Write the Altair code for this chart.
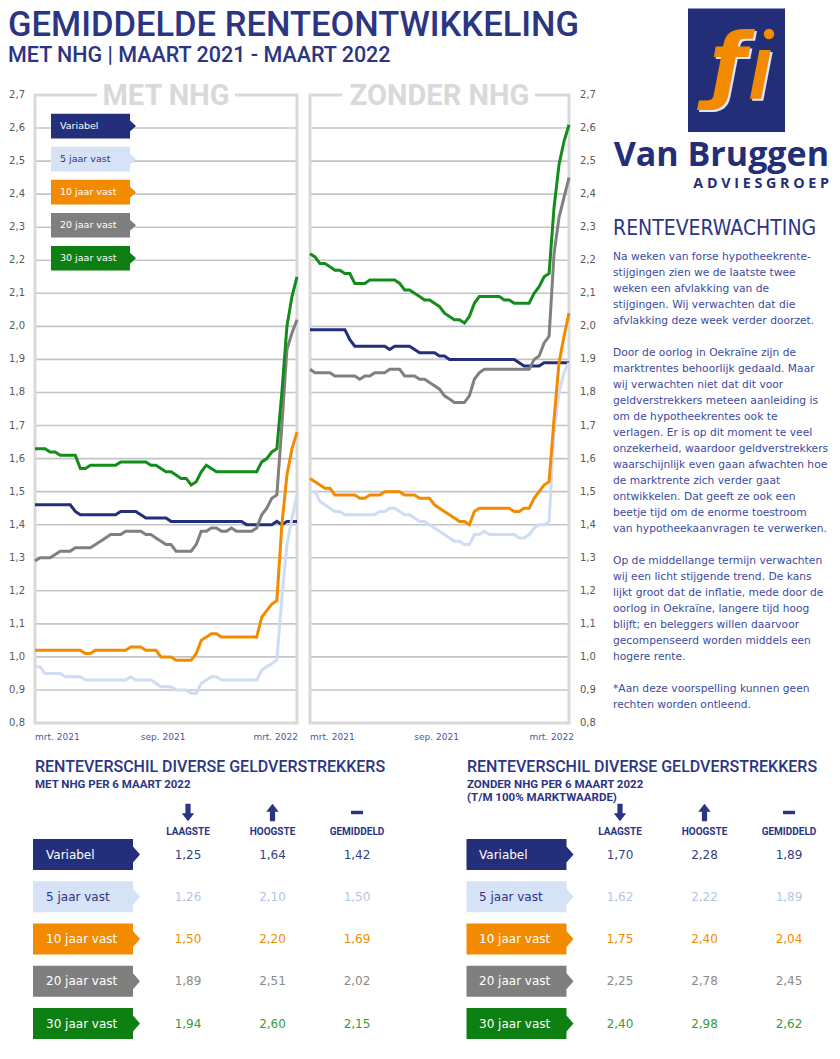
import altair as alt
import pandas as pd

M = 8
def P(v):
    return v - M

# ---------------- data ----------------
dates = list(pd.date_range('2021-03-07', periods=53, freq='7D'))
series = ['Variabel', '5 jaar vast', '10 jaar vast', '20 jaar vast', '30 jaar vast']

met_variabel = [1.46,1.46,1.46,1.46,1.46,1.46,1.46,1.46,1.44,1.43,1.43,1.43,1.43,1.43,1.43,1.43,1.43,
                1.44,1.44,1.44,1.44,1.43,1.42,1.42,1.42,1.42,1.42,1.41,1.41,1.41,1.41,1.41,1.41,1.41,
                1.41,1.41,1.41,1.41,1.41,1.41,1.41,1.41,1.40,1.40,1.40,1.40,1.40,1.40,1.41,1.40,1.41,1.41,1.41]
met_5 = [0.97,0.97,0.95,0.95,0.95,0.95,0.94,0.94,0.94,0.94,0.93,0.93,0.93,0.93,0.93,0.93,0.93,0.93,0.93,
         0.94,0.93,0.93,0.93,0.93,0.92,0.91,0.91,0.91,0.90,0.90,0.90,0.89,0.89,0.92,0.93,0.94,0.94,
         0.93,0.93,0.93,0.93,0.93,0.93,0.93,0.93,0.96,0.97,0.98,0.99,1.18,1.34,1.42,1.49]
met_10 = [1.02,1.02,1.02,1.02,1.02,1.02,1.02,1.02,1.02,1.02,1.01,1.01,1.02,1.02,1.02,1.02,1.02,1.02,1.02,
          1.03,1.03,1.03,1.02,1.02,1.02,1.00,1.00,1.00,0.99,0.99,0.99,0.99,1.01,1.05,1.06,1.07,1.07,
          1.06,1.06,1.06,1.06,1.06,1.06,1.06,1.06,1.12,1.14,1.16,1.17,1.40,1.55,1.63,1.68]
met_20 = [1.29,1.30,1.30,1.30,1.31,1.32,1.32,1.32,1.33,1.33,1.33,1.33,1.34,1.35,1.36,1.37,1.37,1.37,1.38,
          1.38,1.38,1.38,1.37,1.37,1.36,1.35,1.34,1.34,1.32,1.32,1.32,1.32,1.34,1.38,1.38,1.39,1.39,
          1.38,1.38,1.39,1.38,1.38,1.38,1.38,1.39,1.43,1.45,1.48,1.49,1.70,1.93,1.98,2.02]
met_30 = [1.63,1.63,1.63,1.62,1.62,1.61,1.61,1.61,1.61,1.57,1.57,1.58,1.58,1.58,1.58,1.58,1.58,1.59,1.59,
          1.59,1.59,1.59,1.59,1.58,1.58,1.57,1.56,1.56,1.55,1.54,1.54,1.52,1.53,1.56,1.58,1.57,1.56,
          1.56,1.56,1.56,1.56,1.56,1.56,1.56,1.56,1.59,1.60,1.62,1.63,1.80,2.00,2.09,2.15]

zon_variabel = [1.99,1.99,1.99,1.99,1.99,1.99,1.99,1.99,1.96,1.94,1.94,1.94,1.94,1.94,1.94,1.94,1.93,
                1.94,1.94,1.94,1.94,1.93,1.92,1.92,1.92,1.92,1.91,1.91,1.90,1.90,1.90,1.90,1.90,1.90,
                1.90,1.90,1.90,1.90,1.90,1.90,1.90,1.90,1.89,1.88,1.88,1.88,1.88,1.89,1.89,1.89,1.89,1.89,1.89]
zon_5 = [1.50,1.50,1.47,1.46,1.45,1.44,1.44,1.43,1.43,1.43,1.43,1.43,1.43,1.43,1.44,1.44,1.45,1.45,1.44,
         1.43,1.43,1.42,1.41,1.41,1.40,1.39,1.38,1.37,1.36,1.35,1.35,1.34,1.34,1.37,1.37,1.38,1.37,
         1.37,1.37,1.37,1.37,1.37,1.36,1.36,1.37,1.39,1.40,1.40,1.41,1.68,1.80,1.86,1.89]
zon_10 = [1.54,1.53,1.52,1.51,1.51,1.49,1.49,1.49,1.49,1.49,1.48,1.48,1.49,1.49,1.49,1.50,1.50,1.50,1.50,
          1.49,1.49,1.49,1.48,1.48,1.48,1.46,1.45,1.44,1.43,1.42,1.41,1.41,1.40,1.44,1.45,1.45,1.45,
          1.45,1.45,1.45,1.45,1.44,1.44,1.45,1.45,1.48,1.50,1.52,1.53,1.72,1.89,1.97,2.04]
zon_20 = [1.87,1.86,1.86,1.86,1.86,1.85,1.85,1.85,1.85,1.85,1.84,1.85,1.85,1.86,1.86,1.86,1.87,1.87,1.87,
          1.85,1.85,1.85,1.84,1.84,1.83,1.82,1.81,1.79,1.78,1.77,1.77,1.77,1.79,1.84,1.86,1.87,1.87,
          1.87,1.87,1.87,1.87,1.87,1.87,1.87,1.87,1.90,1.91,1.95,1.97,2.22,2.33,2.39,2.45]
zon_30 = [2.22,2.21,2.19,2.19,2.18,2.17,2.17,2.16,2.16,2.13,2.13,2.13,2.14,2.14,2.14,2.14,2.14,2.14,2.13,
          2.11,2.11,2.10,2.09,2.08,2.08,2.07,2.06,2.04,2.03,2.02,2.02,2.01,2.03,2.07,2.09,2.09,2.09,
          2.09,2.09,2.08,2.08,2.07,2.07,2.07,2.07,2.10,2.12,2.15,2.16,2.36,2.49,2.56,2.61]

tbl_stats = ['LAAGSTE', 'HOOGSTE', 'GEMIDDELD']
met_laagste = [1.25, 1.26, 1.50, 1.89, 1.94]
met_hoogste = [1.64, 2.10, 2.20, 2.51, 2.60]
met_gemiddeld = [1.42, 1.50, 1.69, 2.02, 2.15]
zon_laagste = [1.70, 1.62, 1.75, 2.25, 2.40]
zon_hoogste = [2.28, 2.22, 2.40, 2.78, 2.98]
zon_gemiddeld = [1.89, 1.89, 2.04, 2.45, 2.62]

y_ticks = [0.8, 0.9, 1.0, 1.1, 1.2, 1.3, 1.4, 1.5, 1.6, 1.7, 1.8, 1.9, 2.0, 2.1, 2.2, 2.3, 2.4, 2.5, 2.6, 2.7]

body_lines = [
    "Na weken van forse hypotheekrente-",
    "stijgingen zien we de laatste twee",
    "weken een afvlakking van de",
    "stijgingen. Wij verwachten dat die",
    "afvlakking deze week verder doorzet.",
    "",
    "Door de oorlog in Oekraïne zijn de",
    "marktrentes behoorlijk gedaald. Maar",
    "wij verwachten niet dat dit voor",
    "geldverstrekkers meteen aanleiding is",
    "om de hypotheekrentes ook te",
    "verlagen. Er is op dit moment te veel",
    "onzekerheid, waardoor geldverstrekkers",
    "waarschijnlijk even gaan afwachten hoe",
    "de marktrente zich verder gaat",
    "ontwikkelen. Dat geeft ze ook een",
    "beetje tijd om de enorme toestroom",
    "van hypotheekaanvragen te verwerken.",
    "",
    "Op de middellange termijn verwachten",
    "wij een licht stijgende trend. De kans",
    "lijkt groot dat de inflatie, mede door de",
    "oorlog in Oekraïne, langere tijd hoog",
    "blijft; en beleggers willen daarvoor",
    "gecompenseerd worden middels een",
    "hogere rente.",
    "",
    "*Aan deze voorspelling kunnen geen",
    "rechten worden ontleend.",
]

# ---------------- styles ----------------
NAVY = '#2b3583'
BODY = '#3c4a9e'
line_colors = ['#232f7b', '#cfdcf4', '#f28b00', '#808080', '#148c1c']
box_colors = ['#232f7b', '#d6e2f6', '#f28b00', '#7f7f7f', '#0e7f13']
box_text = ['#ffffff', '#2b3583', '#ffffff', '#ffffff', '#ffffff']
val_colors = ['#34418a', '#b4c5e6', '#f28b00', '#8a8a8a', '#3a9b3a']

TAG_S = "M-1,-0.29L0.859,-0.29L0.859,-0.13L1,0L0.859,0.13L0.859,0.29L-1,0.29Z"
TAG_L = "M-1,-0.29L0.869,-0.29L0.869,-0.15L1,0L0.869,0.15L0.869,0.29L-1,0.29Z"
ARROW_DOWN = "M-0.3,-1L0.3,-1L0.3,0.1L0.72,0.1L0,1L-0.72,0.1L-0.3,0.1Z"
ARROW_UP = "M-0.3,1L0.3,1L0.3,-0.1L0.72,-0.1L0,-1L-0.72,-0.1L-0.3,-0.1Z"
BAR = "M-0.69,-0.2L0.69,-0.2L0.69,0.2L-0.69,0.2Z"

ONE = pd.DataFrame({'k': [0]})
layers = []

def text(s, x, y, size, color, font='Roboto', weight='normal', align='left',
         baseline='alphabetic', style='normal'):
    return alt.Chart(pd.DataFrame({'t': [s]})).mark_text(
        font=font, fontSize=size, fontWeight=weight, fontStyle=style, color=color,
        align=align, baseline=baseline
    ).encode(x=alt.value(P(x)), y=alt.value(P(y)), text='t:N')

def box(x1, x2, y1, y2, **kw):
    return alt.Chart(ONE).mark_rect(**kw).encode(
        x=alt.value(P(x1)), x2=alt.value(P(x2)), y=alt.value(P(y1)), y2=alt.value(P(y2)))

def long_df(lists):
    rows = []
    for s, vals in zip(series, lists):
        for d, v in zip(dates, vals):
            rows.append({'datum': d, 'serie': s, 'rente': v})
    return pd.DataFrame(rows)

# ---------------- header ----------------
layers.append(text('GEMIDDELDE RENTEONTWIKKELING', 8, 36, 34.5, NAVY, weight=500))
layers.append(text('MET NHG | MAART 2021 - MAART 2022', 8, 62, 21.5, NAVY, weight=500))

# ---------------- logo ----------------
layers.append(box(688, 785, 8.5, 132, fill='#232e78'))
layers.append(text('ƒ', 730, 95, 84, '#dfe5f7', font='DejaVu Sans', weight='bold',
                   align='center', style='italic'))
layers.append(text('ƒ', 728, 93, 84, '#f28b00', font='DejaVu Sans', weight='bold',
                   align='center', style='italic'))
layers.append(text('l', 761, 101, 64, '#dfe5f7', font='DejaVu Sans', weight='bold',
                   align='center', style='italic'))
layers.append(text('l', 759, 99, 64, '#f28b00', font='DejaVu Sans', weight='bold',
                   align='center', style='italic'))
layers.append(alt.Chart(ONE).mark_point(shape='circle', filled=True, opacity=1, size=110,
                                        color='#f28b00').encode(x=alt.value(P(769)), y=alt.value(P(34))))
layers.append(text('Van Bruggen', 829, 166, 34, '#232e78', font='Open Sans', weight='bold', align='right'))
layers.append(text('A D V I E S G R O E P', 829, 188, 14.3, '#232e78', font='Open Sans', weight='bold', align='right'))

# ---------------- text panel ----------------
layers.append(text('RENTEVERWACHTING', 613, 235, 21, NAVY, font='DejaVu Sans Condensed, Roboto'))
body_df = pd.DataFrame({'i': list(range(len(body_lines))), 't': body_lines})
body_df = body_df[body_df['t'] != '']
layers.append(alt.Chart(body_df).mark_text(
    font='DejaVu Sans', fontSize=10.7, color=BODY, align='left', baseline='middle'
).encode(
    x=alt.value(P(613)),
    y=alt.Y('i:Q', scale=alt.Scale(domain=[0, 28], range=[P(257), P(705)], zero=False, nice=False), axis=None),
    text='t:N'))

# ---------------- line charts ----------------
def ys():
    return alt.Scale(domain=[0.8, 2.7], range=[P(723), P(95)], zero=False, nice=False)

tick_df = pd.DataFrame({'v': y_ticks, 'lab': [f'{t:.1f}'.replace('.', ',') for t in y_ticks]})

def panel(lists, xl, xr, title, title_bg, ylab_x, ylab_align, right_dx):
    out = []
    xs = alt.Scale(domain=[alt.DateTime(year=2021, month=3, date=7),
                           alt.DateTime(year=2022, month=3, date=6)],
                   range=[P(xl), P(xr)])
    out.append(alt.Chart(tick_df).mark_rule(color='#c4c4c4', strokeWidth=1.6).encode(
        y=alt.Y('v:Q', scale=ys(), axis=None), x=alt.value(P(xl)), x2=alt.value(P(xr))))
    out.append(box(xl, xr, 95, 723, fill='white', fillOpacity=0, stroke='#d9d9d9', strokeWidth=3))
    out.append(box(title_bg[0], title_bg[1], 91, 100, fill='white'))
    out.append(text(title, (xl + xr) / 2, 105, 29, '#d9d9d9', weight='bold', align='center'))
    out.append(alt.Chart(long_df(lists)).mark_line(strokeWidth=3).encode(
        x=alt.X('datum:T', scale=xs, axis=None),
        y=alt.Y('rente:Q', scale=ys(), axis=None),
        color=alt.Color('serie:N', scale=alt.Scale(domain=series, range=line_colors), legend=None),
        order=alt.Order('datum:T')))
    out.append(alt.Chart(tick_df).mark_text(
        font='DejaVu Sans', fontSize=10, color='#595959', align=ylab_align, baseline='middle'
    ).encode(x=alt.value(P(ylab_x)), y=alt.Y('v:Q', scale=ys(), axis=None), text='lab:N'))
    for d, lab, al, dx in [(dates[0], 'mrt. 2021', 'left', 0),
                           (pd.Timestamp('2021-09-01'), 'sep. 2021', 'center', 0),
                           (dates[-1], 'mrt. 2022', 'right', right_dx)]:
        out.append(alt.Chart(pd.DataFrame({'d': [d], 't': [lab]})).mark_text(
            font='DejaVu Sans', fontSize=9, color='#4a5a9f', align=al, baseline='middle', dx=dx
        ).encode(x=alt.X('d:T', scale=xs, axis=None), y=alt.value(P(737)), text='t:N'))
    return out

layers += panel([met_variabel, met_5, met_10, met_20, met_30], 35, 297, 'MET NHG', (97, 235), 25, 'right', 1)
layers += panel([zon_variabel, zon_5, zon_10, zon_20, zon_30], 310, 569, 'ZONDER NHG', (342, 535), 580, 'left', 5)

# legend tags in left chart
leg_df = pd.DataFrame({'serie': series, 'k': list(range(5))})
leg_base = alt.Chart(leg_df).transform_calculate(pos='2.6 - 0.1 * datum.k')
layers.append(leg_base.mark_point(shape=TAG_S, size=85 ** 2, filled=True, opacity=1, yOffset=-2).encode(
    x=alt.value(P(93.5)), y=alt.Y('pos:Q', scale=ys(), axis=None),
    color=alt.Color('serie:N', scale=alt.Scale(domain=series, range=box_colors), legend=None)))
layers.append(leg_base.mark_text(font='DejaVu Sans', fontSize=9.5, align='left', baseline='middle', dy=-2).encode(
    x=alt.value(P(60)), y=alt.Y('pos:Q', scale=ys(), axis=None), text='serie:N',
    color=alt.Color('serie:N', scale=alt.Scale(domain=series, range=box_text), legend=None)))

# ---------------- tables ----------------
def table(lo, hi, av, title_x, subtitles, cols, tag_cx, tag_tx):
    out = []
    out.append(text('RENTEVERSCHIL DIVERSE GELDVERSTREKKERS', title_x, 772, 16, NAVY, weight=500))
    for j, s in enumerate(subtitles):
        out.append(text(s, title_x, 788 + 12.5 * j, 11.5, NAVY, weight='bold'))
    cs = alt.Scale(domain=[0, 2], range=[P(cols[0]), P(cols[1])], zero=False, nice=False)
    rs = alt.Scale(domain=[0, 4], range=[P(854.5), P(1023.5)], zero=False, nice=False)
    hdr = pd.DataFrame({'c': [0, 1, 2], 'stat': tbl_stats})
    out.append(alt.Chart(hdr).mark_text(font='Roboto', fontWeight='bold', fontSize=10, color=NAVY,
                                        align='center', baseline='alphabetic').encode(
        x=alt.X('c:Q', scale=cs, axis=None), y=alt.value(P(835)), text='stat:N'))
    out.append(alt.Chart(hdr).mark_point(filled=True, opacity=1, size=300, color=NAVY).encode(
        x=alt.X('c:Q', scale=cs, axis=None), y=alt.value(P(812.5)),
        shape=alt.Shape('stat:N', scale=alt.Scale(domain=tbl_stats, range=[ARROW_DOWN, ARROW_UP, BAR]),
                        legend=None)))
    tag_df = pd.DataFrame({'serie': series, 'r': list(range(5))})
    out.append(alt.Chart(tag_df).mark_point(shape=TAG_L, size=107 ** 2, filled=True, opacity=1).encode(
        x=alt.value(P(tag_cx)), y=alt.Y('r:Q', scale=rs, axis=None),
        color=alt.Color('serie:N', scale=alt.Scale(domain=series, range=box_colors), legend=None)))
    out.append(alt.Chart(tag_df).mark_text(font='DejaVu Sans', fontSize=12, align='left', baseline='middle').encode(
        x=alt.value(P(tag_tx)), y=alt.Y('r:Q', scale=rs, axis=None), text='serie:N',
        color=alt.Color('serie:N', scale=alt.Scale(domain=series, range=box_text), legend=None)))
    rows = []
    for r, s in enumerate(series):
        for c, vals in enumerate([lo, hi, av]):
            rows.append({'r': r, 'c': c, 'serie': s, 'v': vals[r]})
    val_df = pd.DataFrame(rows)
    out.append(alt.Chart(val_df).transform_calculate(
        lab="replace(format(datum.v, '.2f'), '.', ',')"
    ).mark_text(font='DejaVu Sans', fontSize=12, align='center', baseline='middle').encode(
        x=alt.X('c:Q', scale=cs, axis=None), y=alt.Y('r:Q', scale=rs, axis=None), text='lab:N',
        color=alt.Color('serie:N', scale=alt.Scale(domain=series, range=val_colors), legend=None)))
    return out

layers += table(met_laagste, met_hoogste, met_gemiddeld, 35, ['MET NHG PER 6 MAART 2022'],
                (188, 357), 86.5, 46)
layers += table(zon_laagste, zon_hoogste, zon_gemiddeld, 467,
                ['ZONDER NHG PER 6 MAART 2022', '(T/M 100% MARKTWAARDE)'],
                (620, 789), 520, 479)

chart = alt.layer(*layers).resolve_scale(
    x='independent', y='independent', color='independent', shape='independent'
).properties(width=824, height=1040, padding=0, autosize='none').configure_view(stroke=None)

chart.save("out.html", embed_options={"renderer": "svg", "actions": False})
